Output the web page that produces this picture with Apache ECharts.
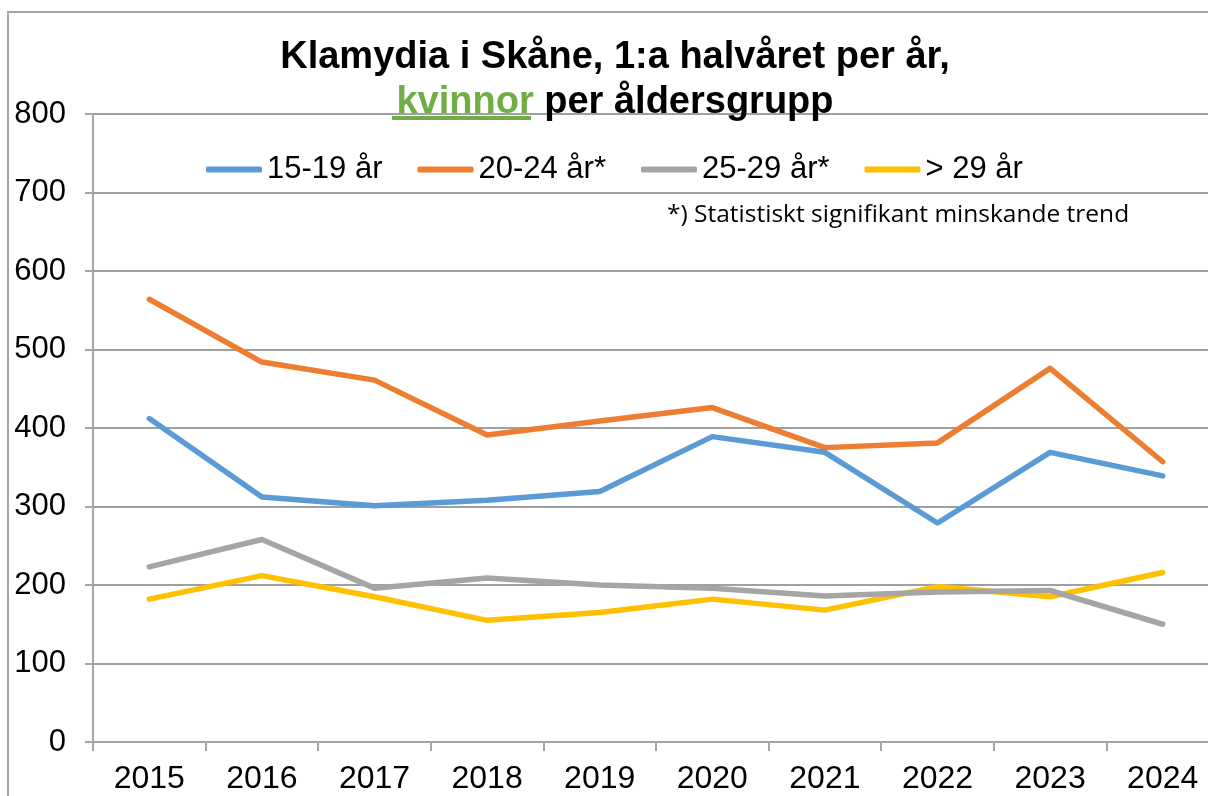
<!DOCTYPE html>
<html>
<head>
<meta charset="utf-8">
<script src="https://cdn.jsdelivr.net/npm/echarts@6/dist/echarts.min.js"></script>
<style>
    html, body { margin: 0; padding: 0; background: #fff; overflow: hidden; }
    /* diagrammet är bredare än fönstret, högerkanten beskärs som i originalet */
    #chart { width: 1240px; height: 796px; }
</style>
</head>
<body>
<div id="chart"></div>
<script>
// år (kategorier)
let years = ['2015', '2016', '2017', '2018', '2019', '2020', '2021', '2022', '2023', '2024'];
let seriesNames = ['15-19 år', '20-24 år*', '25-29 år*', '> 29 år'];
// avlästa värden per åldersgrupp
let age15_19 = [412, 312, 301, 308, 319, 389, 369, 279, 369, 339];
let age20_24 = [564, 484, 461, 391, 409, 426, 375, 381, 476, 357];
let age25_29 = [223, 258, 196, 209, 200, 196, 186, 191, 193, 150];
let age29plus = [182, 212, 185, 155, 165, 182, 168, 198, 185, 216];
let yTicks = [0, 100, 200, 300, 400, 500, 600, 700, 800];

let colors = ['#5B9BD5', '#ED7D31', '#A5A5A5', '#FFC000'];
let values = [age15_19, age20_24, age25_29, age29plus];
let font = 'Liberation Sans, Arial, sans-serif';

let chart = echarts.init(document.getElementById('chart'));

let series = seriesNames.map(function (name, i) {
    return {
        name: name,
        type: 'line',
        data: values[i],
        symbol: 'none',
        lineStyle: { width: 5.5, color: colors[i], cap: 'round', join: 'round' },
        itemStyle: { color: colors[i] },
        z: 10 - i
    };
});

let option = {
    backgroundColor: '#fff',
    animation: false,
    title: {
        text: 'Klamydia i Skåne, 1:a halvåret per år,\n{g|kvinnor} per åldersgrupp',
        left: 610,
        top: 30,
        textAlign: 'center',
        textStyle: {
            fontFamily: font,
            fontWeight: 'bold',
            fontSize: 38,
            lineHeight: 45,
            color: '#000',
            rich: {
                g: { fontFamily: font, fontWeight: 'bold', fontSize: 38, lineHeight: 45, color: '#70AD47' }
            }
        }
    },
    legend: {
        top: 149,
        left: 201,
        itemWidth: 56,
        itemHeight: 6,
        itemGap: 35,
        icon: 'roundRect',
        textStyle: { fontFamily: font, fontSize: 31, color: '#000' },
        data: seriesNames
    },
    grid: {
        left: 93,
        top: 114,
        right: 21,
        bottom: 54,
        containLabel: false
    },
    xAxis: {
        type: 'category',
        data: years,
        boundaryGap: true,
        axisLine: { lineStyle: { color: '#a6a6a6', width: 2 } },
        axisTick: { show: true, length: 9, lineStyle: { color: '#a6a6a6', width: 2 } },
        axisLabel: { fontFamily: font, fontSize: 32, color: '#000', margin: 21 }
    },
    yAxis: {
        type: 'value',
        min: yTicks[0],
        max: yTicks[yTicks.length - 1],
        interval: 100,
        axisLine: { show: true, lineStyle: { color: '#a6a6a6', width: 2 } },
        axisTick: { show: true, length: 8, lineStyle: { color: '#a6a6a6', width: 2 } },
        splitLine: { lineStyle: { color: '#a0a0a0', width: 2 } },
        axisLabel: { fontFamily: font, fontSize: 31, color: '#000', margin: 27 }
    },
    graphic: [
        { // ram runt diagrammet (vänster och övre kant syns)
            type: 'polyline',
            shape: { points: [[8, 900], [8, 12], [1400, 12]] },
            style: { fill: 'none', stroke: '#a6a6a6', lineWidth: 2 },
            silent: true,
            z: -1
        },
        { // understrykning av "kvinnor"
            type: 'rect',
            shape: { x: 392, y: 116, width: 139, height: 4 },
            style: { fill: '#70AD47' },
            silent: true,
            z: 20
        },
        {
            type: 'text',
            left: 667,
            top: 203,
            style: {
                text: '*) Statistiskt signifikant minskande trend',
                font: '24.5px "Open Sans", sans-serif',
                fill: '#000'
            },
            z: 20
        }
    ],
    series: series
};

chart.setOption(option);
</script>
</body>
</html>
